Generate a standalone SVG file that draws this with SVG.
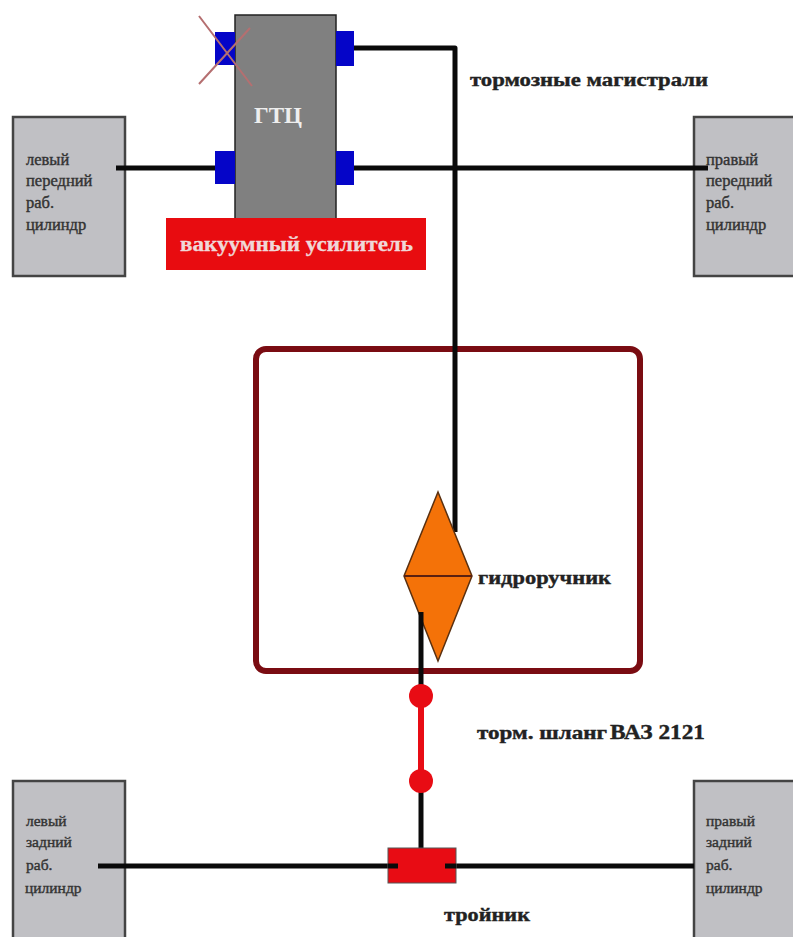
<svg xmlns="http://www.w3.org/2000/svg" width="793" height="937" viewBox="0 0 793 937">
<style>
.wheel{fill:#c0c0c4;stroke:#444;stroke-width:2.5}
.port{fill:#0505c8}
.pipe{fill:none;stroke:#0a0a0a;stroke-width:5;stroke-linejoin:round}
.t{font-family:"Liberation Serif","DejaVu Serif",serif;font-weight:bold;fill:#222}
.w{font-size:16.5px;fill:#333;font-weight:normal;stroke:#333;stroke-width:.4}
.l{font-size:19px;stroke:#222;stroke-width:.4}
</style>
<rect width="793" height="937" fill="#fff"/>
<g id="left-front"><rect class="wheel" x="13" y="117" width="112" height="159"/>
<text class="t w"><tspan x="26" y="165">левый</tspan><tspan x="26" y="186">передний</tspan><tspan x="26" y="208">раб.</tspan><tspan x="26" y="230">цилиндр</tspan></text></g>
<g id="right-front"><rect class="wheel" x="694" y="117" width="112" height="159"/>
<text class="t w"><tspan x="706" y="165">правый</tspan><tspan x="706" y="186">передний</tspan><tspan x="706" y="208">раб.</tspan><tspan x="706" y="230">цилиндр</tspan></text></g>
<g id="left-rear"><rect class="wheel" x="13" y="781" width="112" height="170"/>
<text class="t w" style="font-size:15.5px"><tspan x="26" y="826">левый</tspan><tspan x="26" y="847">задний</tspan><tspan x="26" y="870">раб.</tspan><tspan x="25" y="893">цилиндр</tspan></text></g>
<g id="right-rear"><rect class="wheel" x="694" y="781" width="112" height="170"/>
<text class="t w" style="font-size:15.5px"><tspan x="706" y="826">правый</tspan><tspan x="706" y="847">задний</tspan><tspan x="706" y="870">раб.</tspan><tspan x="706" y="893">цилиндр</tspan></text></g>
<g id="loop"><rect x="256" y="349" width="384" height="322" rx="10" fill="none" stroke="#7a0c12" stroke-width="6"/></g>
<g id="connectors">
<path class="pipe" d="M354 48H455V532"/>
<path class="pipe" d="M116 168H215"/>
<path class="pipe" d="M354 168H708"/>
<path class="pipe" d="M98 866H398"/>
<path class="pipe" d="M445 866H694"/>
<path class="pipe" d="M421 781V850"/>
</g>
<g id="gtc">
<rect x="235" y="15" width="101" height="204" fill="#808080" stroke="#222" stroke-width="1.5"/>
<rect class="port" x="215" y="32" width="20" height="33"/>
<rect class="port" x="336" y="31" width="18" height="35"/>
<rect class="port" x="215" y="151" width="20" height="33"/>
<rect class="port" x="336" y="151" width="18" height="34"/>
<text class="t" x="254" y="123" font-size="24" textLength="48" lengthAdjust="spacingAndGlyphs" style="fill:#eee">ГТЦ</text>
<path d="M199 16L252 86M199 84L250 28" fill="none" stroke="#b56f70" stroke-width="2"/>
</g>
<g id="booster"><rect x="166" y="218" width="260" height="52" fill="#e80c10"/>
<text class="t" x="180" y="251" font-size="20" textLength="233" lengthAdjust="spacingAndGlyphs" style="fill:#f0d8d8;stroke:#f0d8d8;stroke-width:.3">вакуумный усилитель</text></g>
<g id="hydro-handbrake"><path d="M438 492L472 576L438 661L404 576Z" fill="#f47208" stroke="#5a3010" stroke-width="1.5"/>
<path d="M404 576H472" stroke="#5a2010" stroke-width="2"/>
<path class="pipe" d="M421 612V690"/></g>
<g id="hose"><path d="M421 696V781" stroke="#e80c14" stroke-width="6"/>
<circle cx="421" cy="696" r="12" fill="#e80c14"/><circle cx="421" cy="781" r="12" fill="#e80c14"/></g>
<g id="tee"><rect x="388" y="848" width="68" height="35" fill="#e80c14" stroke="#555" stroke-width="1"/>
<path class="pipe" d="M388 866H398M445 866H456"/></g>
<g id="labels">
<text class="t l" x="470" y="86" textLength="238" lengthAdjust="spacingAndGlyphs">тормозные магистрали</text>
<text class="t l" x="478" y="584" textLength="133" lengthAdjust="spacingAndGlyphs">гидроручник</text>
<text class="t l" x="477" y="739" textLength="130" lengthAdjust="spacingAndGlyphs">торм. шланг</text>
<text class="t l" x="610" y="739" font-size="22" textLength="95" lengthAdjust="spacingAndGlyphs" style="font-size:22px">ВАЗ 2121</text>
<text class="t l" x="444" y="921" textLength="86" lengthAdjust="spacingAndGlyphs">тройник</text>
</g>
</svg>
